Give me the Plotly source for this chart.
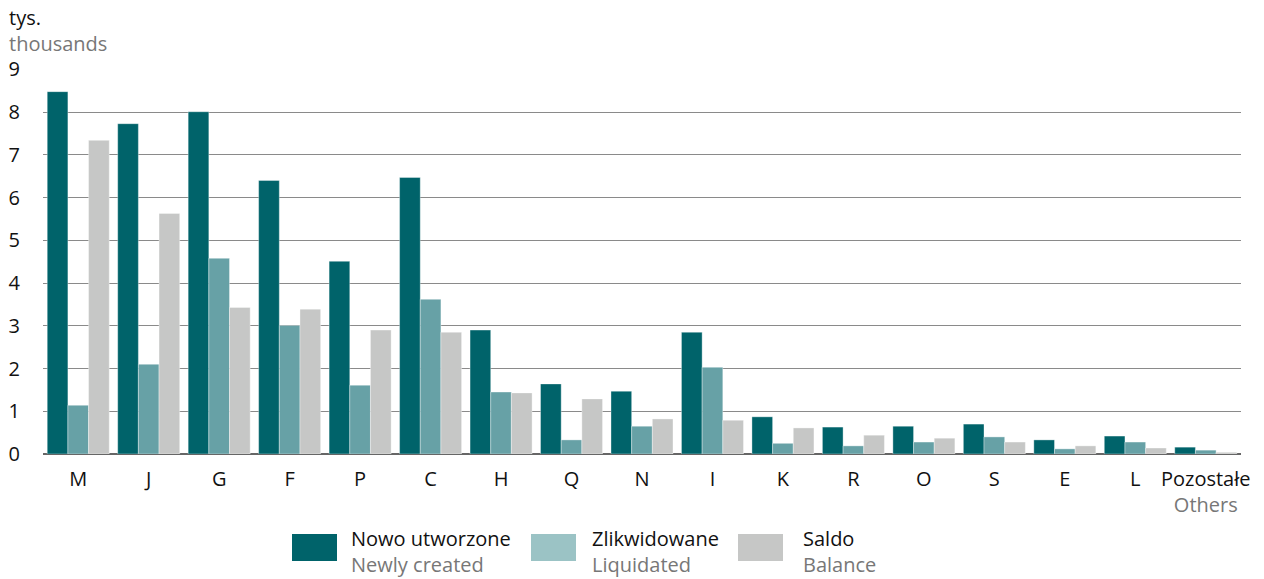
import plotly.graph_objects as go

categories = ["M", "J", "G", "F", "P", "C", "H", "Q", "N", "I", "K", "R", "O", "S", "E", "L", "Pozostałe"]
tick_labels = categories[:-1] + ["Pozostałe<br><span style='color:#777777'>Others</span>"]
newly_created = [8.48, 7.73, 8.01, 6.40, 4.51, 6.47, 2.90, 1.64, 1.47, 2.85, 0.87, 0.63, 0.65, 0.70, 0.33, 0.42, 0.16]
liquidated = [1.14, 2.10, 4.58, 3.01, 1.61, 3.62, 1.45, 0.33, 0.65, 2.03, 0.25, 0.19, 0.28, 0.40, 0.12, 0.28, 0.09]
balance = [7.34, 5.63, 3.43, 3.39, 2.90, 2.85, 1.43, 1.29, 0.82, 0.79, 0.61, 0.44, 0.37, 0.28, 0.19, 0.14, 0.04]

series_pl = ["Nowo utworzone", "Zlikwidowane", "Saldo"]
series_en = ["Newly created", "Liquidated", "Balance"]
bar_colors = ["#00636A", "#67A1A6", "#C6C7C6"]
legend_colors = ["#00636A", "#9BC3C5", "#C6C7C6"]

FONT = "Open Sans, Roboto, sans-serif"
FS = 20
GREY_TXT = "#777777"

fig = go.Figure()
for name, vals, col in zip(series_pl, [newly_created, liquidated, balance], bar_colors):
    fig.add_trace(go.Bar(
        x=categories, y=vals, name=name,
        marker=dict(color=col, line=dict(color="rgba(255,255,255,0.6)", width=0.6)),
        showlegend=False,
    ))

fig.update_layout(
    width=1264, height=579,
    margin=dict(l=43, r=23, t=69, b=125, autoexpand=False),
    paper_bgcolor="white", plot_bgcolor="white",
    barmode="group", bargap=0.12, bargroupgap=0,
    font=dict(family=FONT, size=FS, color="#111111"),
)
fig.update_xaxes(
    tickmode="array", tickvals=categories, ticktext=tick_labels,
    showgrid=False, showline=False, ticks="", ticklabelstandoff=11,
    tickfont=dict(size=FS, color="#111111"), automargin=False,
)
fig.update_yaxes(
    range=[0, 9.01], tickvals=list(range(10)), showgrid=True, gridcolor="#8A8A8A", gridwidth=1.3,
    zeroline=True, zerolinecolor="#666666", zerolinewidth=2,
    showline=False, ticks="", ticklabelstandoff=22,
    tickfont=dict(size=FS, color="#111111"), automargin=False,
)

W, H = 1198, 385
def px2x(px):
    return (px - 43) / W
def py2y(py):
    return (454 - py) / H

# axis unit title
fig.add_annotation(xref="paper", yref="paper", x=px2x(8), y=py2y(30), xanchor="left", yanchor="middle",
                   text=f"tys.<br><span style='color:{GREY_TXT}'>thousands</span>", borderpad=0,
                   showarrow=False, font=dict(size=FS, color="#111111"), align="left")

# custom legend
sw_x = [292, 531, 738]
txt_x = [350, 591, 802]
for i in range(3):
    fig.add_shape(type="rect", xref="paper", yref="paper",
                  x0=px2x(sw_x[i]), x1=px2x(sw_x[i] + 45), y0=py2y(561), y1=py2y(534),
                  fillcolor=legend_colors[i], line=dict(width=0))
    fig.add_annotation(xref="paper", yref="paper", x=px2x(txt_x[i]), y=py2y(551),
                       xanchor="left", yanchor="middle", showarrow=False, align="left", borderpad=0,
                       text=f"{series_pl[i]}<br><span style='color:{GREY_TXT}'>{series_en[i]}</span>",
                       font=dict(size=FS, color="#111111"))

fig.write_html("out.html", config={"displayModeBar": False},
               post_script="document.body.style.margin='0';")
